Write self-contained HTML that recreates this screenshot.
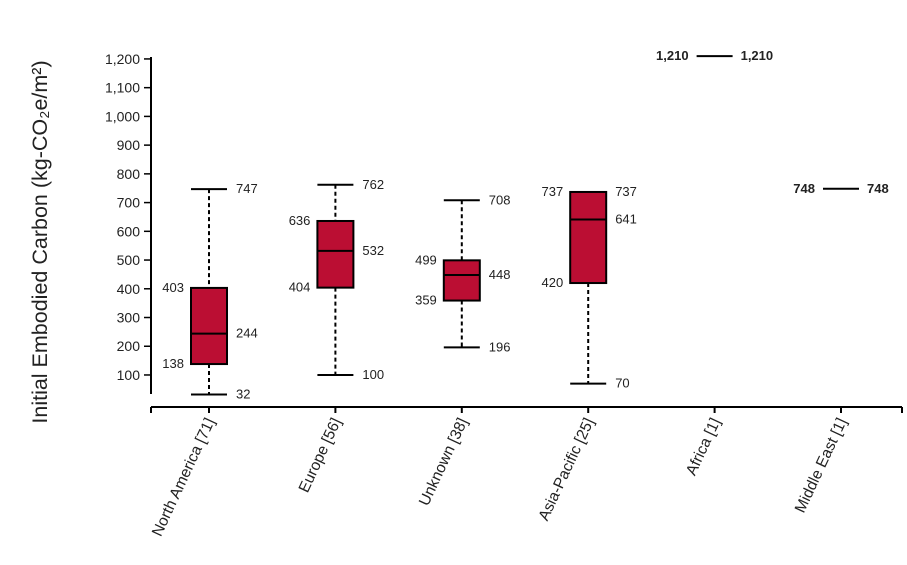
<!DOCTYPE html>
<html><head><meta charset="utf-8"><style>
body{margin:0;background:#fff;}
svg text{font-family:"Liberation Sans",sans-serif;fill:#222;}
</style></head><body>
<svg id="chart" width="907" height="560">
<g id="yaxis"></g>
<g id="xaxis"></g>
<g id="boxes"></g>
<text transform="translate(47,242) rotate(-90)" text-anchor="middle" font-size="21.5">Initial Embodied Carbon (kg-CO₂e/m²)</text>
</svg>
<script>
const categories=["North America [71]","Europe [56]","Unknown [38]","Asia-Pacific [25]","Africa [1]","Middle East [1]"];
const mins=[32,100,196,70,1210,748];
const q1s=[138,404,359,420,1210,748];
const medians=[244,532,448,641,1210,748];
const q3s=[403,636,499,737,1210,748];
const maxs=[747,762,708,737,1210,748];
const yTicks=[100,200,300,400,500,600,700,800,900,1000,1100,1200];
const NS="http://www.w3.org/2000/svg";
const y=v=>403.7-v*0.2873;
const x=i=>209+i*126.4;
const fmt=v=>v.toLocaleString('en-US');
function mk(tag,attrs,parent,txt){const e=document.createElementNS(NS,tag);for(const k in attrs)e.setAttribute(k,attrs[k]);if(txt!==undefined)e.textContent=txt;parent.appendChild(e);return e;}
const ya=document.getElementById('yaxis'),xa=document.getElementById('xaxis'),bx=document.getElementById('boxes');
let l=mk('line',{x1:151,x2:151,y1:y(1200)-2,y2:394,stroke:'#000','stroke-width':2},ya);


yTicks.forEach(t=>{
 let tk=mk('line',{x1:144,x2:151,y1:y(t),y2:y(t),stroke:'#000','stroke-width':1.5},ya);
 
 
 let tx=mk('text',{x:140,y:y(t)+5,'text-anchor':'end','font-size':14},ya,fmt(t));
 
 
});
l=mk('line',{x1:151,x2:902,y1:407,y2:407,stroke:'#000','stroke-width':2},xa);


[151,902].forEach(px=>{let e=mk('line',{x1:px,x2:px,y1:407,y2:413,stroke:'#000','stroke-width':2},xa);
 
 });
categories.forEach((c,i)=>{
 const cx=x(i);
 let tk=mk('line',{x1:cx,x2:cx,y1:407,y2:413,stroke:'#000','stroke-width':2},xa);
 
 
 let tx=mk('text',{transform:`translate(${cx+6},${421}) rotate(-65)`,'text-anchor':'end','font-size':15.5},xa,c);
 
 
 const g=mk('g',{},bx);
 
 
 const hw=18;
 const single=mins[i]===maxs[i]&&q1s[i]===q3s[i];
 if(single){
  mk('line',{x1:cx-hw,x2:cx+hw,y1:y(medians[i]),y2:y(medians[i]),stroke:'#000','stroke-width':2},g);
  mk('text',{x:cx-26,y:y(medians[i])+4,'text-anchor':'end','font-size':13,'font-weight':'bold'},g,fmt(medians[i]));
  mk('text',{x:cx+26,y:y(medians[i])+4,'font-size':13,'font-weight':'bold'},g,fmt(medians[i]));
  return;
 }
 mk('line',{x1:cx,x2:cx,y1:y(maxs[i]),y2:y(q3s[i]),stroke:'#000','stroke-width':2,'stroke-dasharray':'4,3'},g);
 mk('line',{x1:cx,x2:cx,y1:y(q1s[i]),y2:y(mins[i]),stroke:'#000','stroke-width':2,'stroke-dasharray':'4,3'},g);
 mk('line',{x1:cx-hw,x2:cx+hw,y1:y(maxs[i]),y2:y(maxs[i]),stroke:'#000','stroke-width':2},g);
 mk('line',{x1:cx-hw,x2:cx+hw,y1:y(mins[i]),y2:y(mins[i]),stroke:'#000','stroke-width':2},g);
 mk('rect',{x:cx-hw,y:y(q3s[i]),width:hw*2,height:y(q1s[i])-y(q3s[i]),fill:'#bb0e33',stroke:'#000','stroke-width':2},g);
 mk('line',{x1:cx-hw,x2:cx+hw,y1:y(medians[i]),y2:y(medians[i]),stroke:'#000','stroke-width':2},g);
 mk('text',{x:cx+27,y:y(maxs[i])+4,'font-size':13},g,fmt(maxs[i]));
 mk('text',{x:cx+27,y:y(mins[i])+4,'font-size':13},g,fmt(mins[i]));
 mk('text',{x:cx+27,y:y(medians[i])+4,'font-size':13},g,fmt(medians[i]));
 mk('text',{x:cx-25,y:y(q3s[i])+4,'text-anchor':'end','font-size':13},g,fmt(q3s[i]));
 mk('text',{x:cx-25,y:y(q1s[i])+4,'text-anchor':'end','font-size':13},g,fmt(q1s[i]));
});
</script>
</body></html>
